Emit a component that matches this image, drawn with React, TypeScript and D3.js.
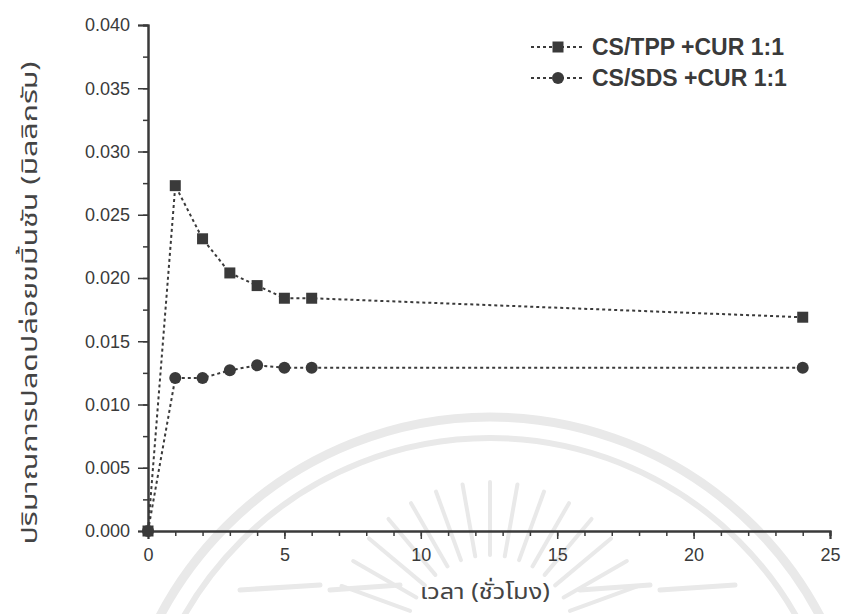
import React, { useEffect, useRef } from 'react'
import * as d3 from 'd3'

// release data (time in hours, amount in mg)
const hours = [0, 1, 2, 3, 4, 5, 6, 24]
const tppValues = [0, 0.0273, 0.0231, 0.0204, 0.0194, 0.0184, 0.0184, 0.0169]
const sdsValues = [0, 0.0121, 0.0121, 0.0127, 0.0131, 0.0129, 0.0129, 0.0129]
const seriesNames = ['CS/TPP +CUR 1:1', 'CS/SDS +CUR 1:1']
const xTicks = [0, 5, 10, 15, 20, 25]
const yTicks = [0, 0.005, 0.01, 0.015, 0.02, 0.025, 0.03, 0.035, 0.04]
const xTitle = 'เวลา (ชั่วโมง)'
const yTitle = 'ปริมาณการปลดปล่อยขมิ้นชัน (มิลลิกรัม)'

const W = 841
const H = 614
const ink = '#3a3a3a'
const font = "'Liberation Sans', Arial, sans-serif"
const thaiFont = "'Noto Sans Thai', 'Loma', 'Garuda', 'Norasi', 'Liberation Sans', sans-serif"

function App() {
  const ref = useRef<SVGSVGElement>(null)

  useEffect(() => {
    const svg = d3.select(ref.current)
    svg.selectAll('*').remove()

    const x = d3.scaleLinear().domain([0, 25]).range([148, 830])
    const y = d3.scaleLinear().domain([0, 0.04]).range([531, 25])

    // faint watermark emblem in the background
    const wm = svg.append('g').attr('fill', 'none').attr('stroke', '#e9e9e9')
    wm.append('circle').attr('cx', 490).attr('cy', 790).attr('r', 373).attr('stroke-width', 9)
    wm.append('circle').attr('cx', 490).attr('cy', 790).attr('r', 352).attr('stroke-width', 6)
    d3.range(15).forEach(i => {
      const a = (-160 + i * 10) * Math.PI / 180
      wm.append('line')
        .attr('x1', 490 + Math.cos(a) * 85).attr('y1', 640 + Math.sin(a) * 85)
        .attr('x2', 490 + Math.cos(a) * 158).attr('y2', 640 + Math.sin(a) * 158)
        .attr('stroke-width', 4).attr('stroke-linecap', 'round')
    })
    ;[[240, 320], [330, 400], [580, 650], [660, 735]].forEach(([a, b]) => {
      wm.append('line').attr('x1', a).attr('x2', b).attr('y1', 590).attr('y2', 585)
        .attr('stroke-width', 5).attr('stroke-linecap', 'round')
    })

    // axes
    const xMinor = svg.append('g').attr('transform', 'translate(0,531)')
      .call(d3.axisBottom(x).tickValues(d3.range(0, 26)).tickSize(5).tickFormat(() => ''))
    const xAxis = svg.append('g').attr('transform', 'translate(0,531)')
      .call(d3.axisBottom(x).tickValues(xTicks).tickSize(8).tickPadding(9).tickFormat(d3.format('d')))
    const yMinor = svg.append('g').attr('transform', 'translate(148,0)')
      .call(d3.axisLeft(y).tickValues(d3.range(0, 0.04001, 0.0025)).tickSize(5).tickFormat(() => ''))
    const yAxis = svg.append('g').attr('transform', 'translate(148,0)')
      .call(d3.axisLeft(y).tickValues(yTicks).tickSize(10).tickPadding(8).tickFormat(d3.format('.3f')))

    ;[xMinor, xAxis, yMinor, yAxis].forEach(g => {
      g.selectAll('.domain').attr('stroke', ink).attr('stroke-width', 2)
      g.selectAll('line').attr('stroke', ink).attr('stroke-width', 1.5)
      g.selectAll('text').attr('fill', ink).attr('font-family', font).attr('font-size', 18)
    })

    // series
    const line = d3.line<number>().x((d, i) => x(hours[i])).y(d => y(d))
    ;[tppValues, sdsValues].forEach(vals => {
      svg.append('path').datum(vals)
        .attr('fill', 'none').attr('stroke', ink).attr('stroke-width', 2)
        .attr('stroke-dasharray', '3,3').attr('d', line)
    })
    svg.append('g').selectAll('rect').data(tppValues).join('rect')
      .attr('x', (d, i) => x(hours[i]) - 5.5).attr('y', d => y(d) - 5.5)
      .attr('width', 11).attr('height', 11).attr('fill', ink)
    svg.append('g').selectAll('circle').data(sdsValues).join('circle')
      .attr('cx', (d, i) => x(hours[i])).attr('cy', d => y(d)).attr('r', 6).attr('fill', ink)

    // legend
    seriesNames.forEach((name, i) => {
      const ly = 47 + i * 31
      const g = svg.append('g')
      g.append('line').attr('x1', 531).attr('x2', 585).attr('y1', ly).attr('y2', ly)
        .attr('stroke', ink).attr('stroke-width', 2).attr('stroke-dasharray', '3,3')
      if (i === 0) {
        g.append('rect').attr('x', 552.5).attr('y', ly - 5.5).attr('width', 11).attr('height', 11).attr('fill', ink)
      } else {
        g.append('circle').attr('cx', 558).attr('cy', ly).attr('r', 6).attr('fill', ink)
      }
      g.append('text').attr('x', 592).attr('y', ly).attr('dy', '0.36em')
        .attr('font-family', font).attr('font-size', 23).attr('font-weight', 'bold')
        .attr('fill', ink).text(name)
    })

    // titles
    svg.append('text').attr('x', 485).attr('y', 599).attr('text-anchor', 'middle')
      .attr('font-family', thaiFont).attr('font-size', 22).attr('fill', '#444')
      .attr('textLength', 130).attr('lengthAdjust', 'spacingAndGlyphs').text(xTitle)
    svg.append('text').attr('transform', 'translate(37,303) rotate(-90)').attr('text-anchor', 'middle')
      .attr('font-family', thaiFont).attr('font-size', 22).attr('fill', '#444')
      .attr('textLength', 483).attr('lengthAdjust', 'spacingAndGlyphs').text(yTitle)
  }, [])

  return (
    <svg ref={ref} width={W} height={H} viewBox={`0 0 ${W} ${H}`}
      style={{ position: 'absolute', left: 0, top: 0, background: '#fff' }} />
  )
}

export default App
